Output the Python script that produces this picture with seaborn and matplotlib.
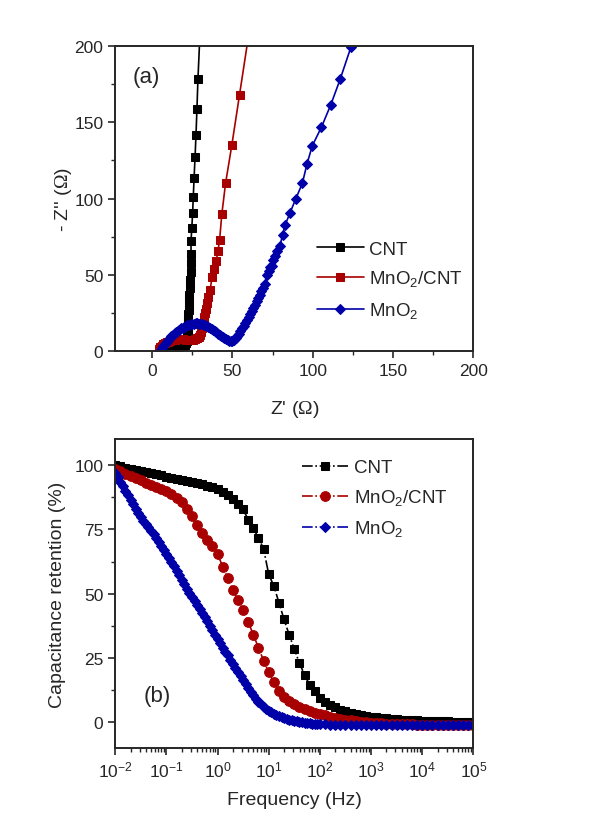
import numpy as np
import matplotlib
matplotlib.use("Agg")
import matplotlib.pyplot as plt
from matplotlib.ticker import MultipleLocator, LogLocator, NullFormatter
import seaborn as sns
import pandas as pd

# ---- (a) Nyquist data, Z' and -Z'' in ohm ----
cnt_zre = [8.0, 9.5, 11.0, 12.5, 14.0, 15.5, 17.0, 18.5, 19.5, 20.3, 21.0, 21.4, 21.7,
           21.9, 22.1, 22.2, 22.3, 22.4, 22.5, 22.6, 22.7, 22.8, 22.9, 23.0, 23.4, 23.8,
           24.1, 24.3, 24.2, 24.2, 24.7, 25.2, 25.6, 26.1, 26.7, 27.3, 27.9, 28.5, 30.5]
cnt_zim = [0.3, 0.8, 1.3, 1.8, 2.2, 2.6, 3.0, 3.3, 3.7, 4.2, 5.2, 6.5, 8.0,
           10.0, 12.0, 14.0, 16.5, 19.0, 21.5, 24.6, 27.0, 30.0, 33.5, 37.0, 41.5, 46.8,
           52.0, 57.7, 64.0, 72.1, 81.0, 90.6, 101.0, 113.3, 127.0, 141.6, 159.0, 178.0, 225.0]

mc_zre = [4.0, 5.0, 6.0, 7.0, 8.0, 9.0, 10.0, 11.0, 12.0, 13.0, 14.0, 15.0, 16.5, 18.0,
          19.5, 21.0, 22.5, 24.0, 25.5, 26.8, 28.0, 29.0, 29.8, 30.5, 31.0, 31.5, 32.0,
          32.5, 33.0, 33.5, 34.3, 35.0, 36.0, 37.4, 38.5, 39.9, 41.0, 42.0, 43.4, 45.7,
          49.6, 54.4, 60.5]
mc_zim = [1.5, 2.8, 3.8, 4.6, 5.3, 5.9, 6.4, 6.8, 7.2, 7.5, 7.7, 7.9, 8.0, 8.0,
          7.9, 7.7, 7.5, 7.4, 7.5, 7.8, 8.5, 9.5, 11.0, 13.0, 15.0, 17.5, 20.0,
          22.5, 25.0, 28.0, 31.5, 35.5, 40.0, 49.0, 54.0, 59.0, 66.0, 73.0, 90.0, 110.0,
          135.0, 168.0, 210.0]

mn_zre = [5.0, 6.0, 7.0, 8.0, 9.0, 10.0, 11.0, 12.0, 13.0, 14.0, 15.0, 16.0, 17.0, 18.0,
          19.0, 20.0, 21.0, 22.0, 23.0, 24.0, 25.0, 26.0, 27.0, 28.0, 29.0, 30.0, 31.0,
          32.0, 33.0, 34.0, 35.0, 36.0, 37.0, 38.0, 39.0, 40.0, 41.0, 42.0, 43.0, 44.0,
          45.0, 46.0, 47.0, 48.0, 49.0, 50.0, 51.0, 52.0, 53.0, 54.0, 55.0, 56.0, 57.0,
          58.0, 59.0, 60.0, 61.0, 62.0, 63.0, 64.0, 65.0, 66.0, 67.0, 68.0, 69.0, 70.0,
          71.3, 72.5, 73.5, 74.5, 75.5, 76.7, 78.0, 79.6, 81.2, 82.9, 85.8, 89.3, 93.5,
          96.4, 99.7, 105.4, 111.2, 117.0, 123.7, 130.5]
mn_zim = [0.5, 2.0, 3.5, 5.0, 6.3, 7.5, 8.7, 9.8, 10.8, 11.8, 12.7, 13.5, 14.3, 15.0,
          15.6, 16.2, 16.7, 17.1, 17.5, 17.8, 18.0, 18.2, 18.3, 18.3, 18.2, 18.1, 17.8,
          17.5, 17.1, 16.6, 16.1, 15.5, 14.8, 14.1, 13.3, 12.5, 11.7, 10.9, 10.1, 9.3,
          8.5, 7.8, 7.2, 6.8, 6.6, 6.8, 7.5, 8.6, 10.0, 11.6, 13.3, 15.0, 16.8,
          18.7, 20.6, 22.5, 24.5, 26.5, 28.5, 30.6, 32.7, 34.8, 37.0, 39.2, 41.5, 44.0,
          49.7, 52.5, 55.0, 56.2, 60.0, 62.7, 66.0, 69.0, 76.5, 83.0, 90.6, 99.6, 110.0,
          122.7, 134.6, 146.8, 161.4, 178.0, 199.0, 220.0]

# ---- (b) capacitance retention vs frequency ----
# log10 of frequency (Hz)
freq_exp = [-2.0, -1.9, -1.8, -1.7, -1.6, -1.5, -1.4, -1.3, -1.2, -1.1,
            -1.0, -0.9, -0.8, -0.7, -0.6, -0.5, -0.4, -0.3, -0.2, -0.1,
            0.0, 0.1, 0.2, 0.3, 0.4, 0.5, 0.6, 0.7, 0.8, 0.9,
            1.0, 1.1, 1.2, 1.3, 1.4, 1.5, 1.6, 1.7, 1.8, 1.9,
            2.0, 2.1, 2.2, 2.3, 2.4, 2.5, 2.6, 2.7, 2.8, 2.9,
            3.0, 3.1, 3.2, 3.3, 3.4, 3.5, 3.6, 3.7, 3.8, 3.9,
            4.0, 4.1, 4.2, 4.3, 4.4, 4.5, 4.6, 4.7, 4.8, 4.9, 5.0]
cnt_ret = [100.0, 99.5, 99.0, 98.5, 98.0, 97.6, 97.2, 96.8, 96.4, 96.0,
           95.5, 95.1, 94.7, 94.3, 93.9, 93.5, 93.0, 92.5, 92.0, 91.3,
           90.5, 89.5, 88.3, 86.8, 85.0, 82.8, 78.7, 75.4, 71.6, 67.4,
           57.5, 53.0, 46.5, 40.0, 34.0, 28.5, 23.0, 18.5, 14.5, 12.0,
           9.5, 8.0, 6.8, 5.8, 5.0, 4.3, 3.8, 3.3, 2.9, 2.5,
           2.2, 2.0, 1.8, 1.6, 1.4, 1.2, 1.1, 1.0, 0.9, 0.8,
           0.7, 0.6, 0.5, 0.5, 0.4, 0.4, 0.3, 0.3, 0.2, 0.2, 0.2]
mc_ret = [98.5, 97.5, 96.5, 95.6, 94.8, 94.0, 93.2, 92.4, 91.6, 90.8,
          90.0, 88.8, 87.3, 85.5, 83.0, 80.0, 76.5, 73.5, 71.0, 68.5,
          65.5, 60.5, 56.0, 51.5, 47.5, 43.5, 39.0, 34.0, 29.0, 24.0,
          19.5, 15.5, 12.2, 10.0, 8.3, 7.0, 6.0, 5.2, 4.5, 3.8,
          3.2, 2.7, 2.2, 1.8, 1.4, 1.1, 0.8, 0.5, 0.3, 0.1,
          -0.1, -0.3, -0.4, -0.5, -0.6, -0.7, -0.7, -0.8, -0.8, -0.9,
          -0.9, -1.0, -1.0, -1.0, -1.1, -1.1, -1.1, -1.2, -1.2, -1.2, -1.2]

# MnO2 was sampled more densely
mn_freq_exp = [-2.0, -1.95, -1.9, -1.85, -1.8, -1.75, -1.7, -1.65, -1.6, -1.55,
               -1.5, -1.45, -1.4, -1.35, -1.3, -1.25, -1.2, -1.15, -1.1, -1.05,
               -1.0, -0.95, -0.9, -0.85, -0.8, -0.75, -0.7, -0.65, -0.6, -0.55,
               -0.5, -0.45, -0.4, -0.35, -0.3, -0.25, -0.2, -0.15, -0.1, -0.05,
               0.0, 0.05, 0.1, 0.15, 0.2, 0.25, 0.3, 0.35, 0.4, 0.45,
               0.5, 0.55, 0.6, 0.65, 0.7, 0.75, 0.8, 0.85, 0.9, 0.95,
               1.0, 1.05, 1.1, 1.15, 1.2, 1.25, 1.3, 1.35, 1.4, 1.45,
               1.5, 1.55, 1.6, 1.65, 1.7, 1.75, 1.8, 1.85, 1.9, 1.95, 2.0,
               2.1, 2.2, 2.3, 2.4, 2.5, 2.6, 2.7, 2.8, 2.9, 3.0,
               3.1, 3.2, 3.3, 3.4, 3.5, 3.6, 3.7, 3.8, 3.9, 4.0,
               4.1, 4.2, 4.3, 4.4, 4.5, 4.6, 4.7, 4.8, 4.9, 5.0]
mn_ret = [97.0, 95.2, 93.5, 91.7, 90.0, 88.2, 86.5, 84.7, 83.0, 81.4,
          79.8, 78.4, 77.0, 75.8, 74.5, 73.0, 71.5, 70.0, 68.5, 67.0,
          65.5, 64.0, 62.5, 60.8, 59.0, 57.2, 55.5, 53.7, 52.0, 50.4,
          48.8, 47.1, 45.5, 44.0, 42.5, 40.8, 39.2, 37.5, 35.8, 34.1,
          32.5, 30.7, 29.0, 27.5, 26.0, 24.4, 22.8, 21.1, 19.5, 17.9,
          16.3, 14.8, 13.3, 11.9, 10.5, 9.2, 8.0, 7.0, 6.0, 5.2,
          4.5, 3.9, 3.3, 2.8, 2.4, 2.0, 1.7, 1.4, 1.1, 0.8,
          0.6, 0.4, 0.2, 0.0, -0.1, -0.3, -0.4, -0.5, -0.6, -0.6, -0.7,
          -0.8, -0.9, -0.9, -1.0, -1.0, -1.0, -1.1, -1.0, -1.1, -1.1,
          -1.0, -1.1, -1.1, -1.0, -1.1, -1.1, -1.0, -1.1, -1.0, -1.1,
          -1.0, -1.1, -1.1, -1.0, -1.1, -1.0, -1.1, -1.0, -1.1, -1.0]

labels = ["CNT", "MnO$_2$/CNT", "MnO$_2$"]
colors = ["black", "#A80000", "#0000A8"]

sns.set_style("ticks")
plt.rcParams["font.family"] = ["Liberation Sans", "DejaVu Sans"]
plt.rcParams["mathtext.fontset"] = "custom"
plt.rcParams["mathtext.rm"] = "Liberation Sans"
plt.rcParams["mathtext.sf"] = "Liberation Serif"
plt.rcParams["axes.linewidth"] = 1.4

fs_tick = 12.5
fs_lab = 14
fs_leg = 13.5

fig = plt.figure(figsize=(6, 8.37), dpi=100)
ax1 = fig.add_axes([0.192, 0.579, 0.597, 0.365])
ax2 = fig.add_axes([0.192, 0.105, 0.597, 0.369])

# ---- panel (a) ----
nyq = [(cnt_zre, cnt_zim, "s", 5.5), (mc_zre, mc_zim, "s", 5.5), (mn_zre, mn_zim, "D", 5.5)]
for (zr, zi, mk, ms), lab, c in zip(nyq, labels, colors):
    d = pd.DataFrame({"zre": zr, "zim": zi})
    sns.lineplot(data=d, x="zre", y="zim", sort=False, estimator=None, ax=ax1,
                 color=c, marker=mk, markersize=ms, markeredgecolor=c,
                 linewidth=1.2, label=lab)

ax1.set_xlim(-23, 200)
ax1.set_ylim(0, 200)
ax1.xaxis.set_major_locator(MultipleLocator(50))
ax1.xaxis.set_minor_locator(MultipleLocator(25))
ax1.yaxis.set_major_locator(MultipleLocator(50))
ax1.yaxis.set_minor_locator(MultipleLocator(25))
ax1.set_xlabel("Z' ($\\mathsf{\\Omega}$)", fontsize=fs_lab, labelpad=14)
ax1.set_ylabel("- Z'' ($\\mathsf{\\Omega}$)", fontsize=fs_lab, labelpad=0)
ax1.text(0.05, 0.90, "(a)", transform=ax1.transAxes, fontsize=16, va="center")
ax1.legend(loc="upper left", bbox_to_anchor=(0.542, 0.387), frameon=False,
           fontsize=fs_leg, handlelength=2.5, handletextpad=0.3, labelspacing=0.6,
           borderaxespad=0)

# ---- panel (b) ----
series_b = [([10.0 ** e for e in freq_exp], cnt_ret, "s", 6.0),
            ([10.0 ** e for e in freq_exp], mc_ret, "o", 7.0),
            ([10.0 ** e for e in mn_freq_exp], mn_ret, "D", 5.5)]
for (f, r, mk, ms), lab, c in zip(series_b, labels, colors):
    d = pd.DataFrame({"f": f, "r": r})
    sns.lineplot(data=d, x="f", y="r", estimator=None, ax=ax2, color=c,
                 marker=mk, markersize=ms, markeredgecolor=c, linewidth=1.2,
                 linestyle="-.", label=lab)

ax2.set_xscale("log")
ax2.set_xlim(1e-2, 1e5)
ax2.set_ylim(-10, 110)
ax2.xaxis.set_major_locator(LogLocator(base=10, numticks=10))
ax2.xaxis.set_minor_locator(LogLocator(base=10, subs=np.arange(2, 10), numticks=20))
ax2.xaxis.set_minor_formatter(NullFormatter())
ax2.yaxis.set_major_locator(MultipleLocator(25))
ax2.yaxis.set_minor_locator(MultipleLocator(12.5))
ax2.set_xlabel("Frequency (Hz)", fontsize=fs_lab, labelpad=8)
ax2.set_ylabel("Capacitance retention (%)", fontsize=fs_lab, labelpad=6)
ax2.text(0.08, 0.17, "(b)", transform=ax2.transAxes, fontsize=16, va="center")
ax2.legend(loc="upper left", bbox_to_anchor=(0.50, 0.96), frameon=False,
           fontsize=fs_leg, handlelength=2.5, handletextpad=0.3, labelspacing=0.6,
           borderaxespad=0)

for ax in (ax1, ax2):
    for sp in ax.spines.values():
        sp.set_visible(True)
        sp.set_linewidth(1.4)
    ax.tick_params(axis="both", which="major", direction="out", length=5, width=1.2,
                   labelsize=fs_tick, top=False, right=False)
    ax.tick_params(axis="both", which="minor", direction="out", length=3, width=1.0,
                   top=False, right=False)

fig.savefig("out.png", dpi=100)
